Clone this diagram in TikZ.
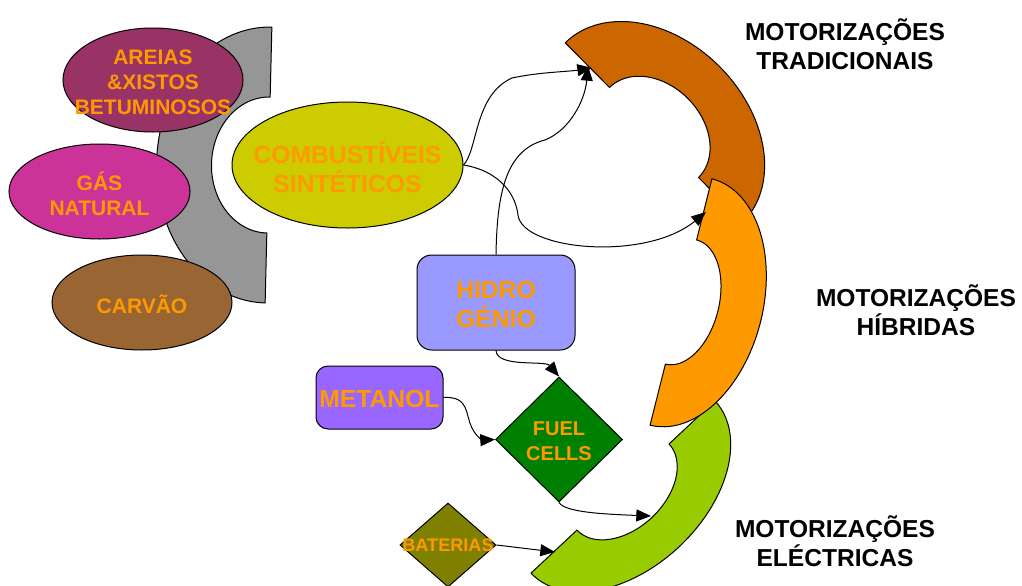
\documentclass[tikz,border=0pt]{standalone}
\usepackage{fontspec}
\setmainfont{Liberation Sans}
\usetikzlibrary{shapes.geometric,arrows.meta}

\definecolor{txtorange}{HTML}{FF9900}
\definecolor{ringgray}{HTML}{969696}
\definecolor{ringbrown}{HTML}{CC6600}
\definecolor{ringorange}{HTML}{FF9900}
\definecolor{ringgreen}{HTML}{99CC00}
\definecolor{areias}{HTML}{993366}
\definecolor{gas}{HTML}{CC3399}
\definecolor{carvao}{HTML}{996633}
\definecolor{sintet}{HTML}{CCCC00}
\definecolor{hidro}{HTML}{9999FF}
\definecolor{metanol}{HTML}{9966FF}
\definecolor{fuel}{HTML}{008000}
\definecolor{bater}{HTML}{808000}

% half elliptical ring: #1,#2 centre; #3 direction of the flat cut (deg);
% #4,#5 outer radii; #6,#7 inner radii; #8 bulge side (+1/-1); #9 fill
\newcommand{\halfring}[9]{%
  \filldraw[ringedge, fill=#9]
    plot[domain=-90:90, samples=70]
      ({#1+#4*sin(\x)*cos(#3)-(#8)*#5*cos(\x)*sin(#3)},
       {#2+#4*sin(\x)*sin(#3)+(#8)*#5*cos(\x)*cos(#3)})
    -- plot[domain=90:-90, samples=70]
      ({#1+#6*sin(\x)*cos(#3)-(#8)*#7*cos(\x)*sin(#3)},
       {#2+#6*sin(\x)*sin(#3)+(#8)*#7*cos(\x)*cos(#3)})
    -- cycle;}

\tikzset{
  ringedge/.style={draw=black, line width=0.75pt, line join=round},
  shapetxt/.style={align=center, text=txtorange, inner sep=0pt, yshift=-1.5pt},
  smalltxt/.style={shapetxt, font=\bfseries\fontsize{15.75}{18.75}\selectfont},
  bigtxt/.style={shapetxt, font=\bfseries\fontsize{18.5}{21.75}\selectfont},
  blob/.style={ellipse, draw=black, line width=0.75pt, inner sep=0pt},
  box/.style={rectangle, draw=black, line width=0.75pt, inner sep=0pt},
  gem/.style={diamond, draw=black, line width=0.75pt, inner sep=0pt},
  fueltxt/.style={shapetxt, font=\bfseries\fontsize{15}{18.75}\selectfont},
  gemtxt/.style={shapetxt, yshift=1pt, font=\bfseries\fontsize{13.6}{16}\selectfont},
  motor/.style={align=center, text=black, inner sep=0pt,
    font=\bfseries\fontsize{18.4}{21.75}\selectfont},
  link/.style={draw=black, line width=0.75pt, -{Triangle[length=11pt,width=9pt]}}
}

\begin{document}
\begin{tikzpicture}[x=0.75pt, y=-0.75pt]
\useasboundingbox (0,0) rectangle (1022,586);

% grey half ring behind the raw sources
\halfring{268.5}{165}{91.4}{138}{112}{68}{57}{1}{ringgray}

% raw sources
\node[blob, fill=areias, minimum width=135pt, minimum height=78pt,
  label={[smalltxt]center:AREIAS\\\&XISTOS\\BETUMINOSOS}] (areias) at (153,80) {};
\node[blob, fill=gas, minimum width=135.75pt, minimum height=71.25pt,
  label={[smalltxt]center:GÁS\\NATURAL}] (gas) at (99.5,191.5) {};
\node[blob, fill=carvao, minimum width=135pt, minimum height=71.25pt,
  label={[smalltxt]center:CARVÃO}] (carvao) at (142,302.5) {};

% fuels
\node[blob, fill=sintet, minimum width=173.25pt, minimum height=94.5pt,
  label={[bigtxt]center:COMBUSTÍVEIS\\SINTÉTICOS}] (comb) at (347.5,165) {};
\node[box, fill=hidro, rounded corners=11pt, minimum width=118.5pt, minimum height=71.25pt,
  label={[bigtxt]center:HIDRO\\GÉNIO}] (hidro) at (496,302.5) {};
\node[box, fill=metanol, rounded corners=9pt, minimum width=95.25pt, minimum height=47.25pt,
  label={[bigtxt]center:METANOL}] (met) at (379.5,397.5) {};
\node[gem, fill=fuel, minimum width=95.25pt, minimum height=93.75pt,
  label={[fueltxt]center:FUEL\\CELLS}] (fuelc) at (559,439.5) {};
\node[gem, fill=bater, minimum width=72pt, minimum height=63pt,
  label={[gemtxt]center:BATERIAS}] (bat) at (448,545) {};

% motorisation half rings
\halfring{654}{132.5}{45.3}{126.2}{93}{63.3}{48}{-1}{ringbrown}
\halfring{623}{487}{136.9}{126}{82}{63}{42}{-1}{ringgreen}
\halfring{681}{302}{104.1}{127}{82}{64}{38}{-1}{ringorange}

% arrow targets on the rings
\coordinate (tradA) at (592,68);
\coordinate (tradB) at (588,66);
\coordinate (hib) at (706,212);
\coordinate (eleA) at (651,516);
\coordinate (eleB) at (555,552);

% connectors
\draw[link] (comb.east) .. controls (478,150) and (474,95) .. (512,78)
  .. controls (540,72) and (565,72) .. (tradA);
\draw[link] (comb.east) .. controls (495,170) and (515,190) .. (518,215)
  .. controls (522,250) and (645,262) .. (hib);
\draw[link] (hidro.north) .. controls (497,195) and (505,150) .. (545,140)
  .. controls (570,130) and (585,100) .. (tradB);
\draw[link] (hidro.south) .. controls (497,368) and (545,360) .. (fuelc.north);
\draw[link] (met.east) .. controls (470,396) and (465,415) .. (472,428)
  .. controls (478,440) and (485,440) .. (fuelc.west);
\draw[link] (fuelc.south) .. controls (565,512) and (600,514) .. (eleA);
\draw[link] (bat.east) -- (eleB);

% labels
\node[motor] (ltrad) at (845,44) {MOTORIZAÇÕES\\TRADICIONAIS};
\node[motor] (lhib) at (916,310) {MOTORIZAÇÕES\\HÍBRIDAS};
\node[motor] (lele) at (835,541) {MOTORIZAÇÕES\\ELÉCTRICAS};
\end{tikzpicture}
\end{document}
